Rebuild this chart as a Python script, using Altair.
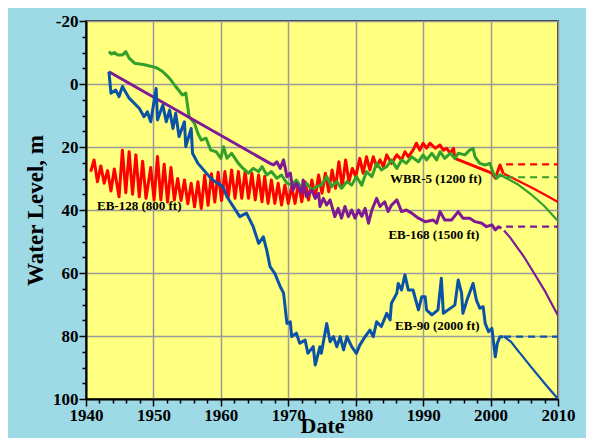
import altair as alt
import pandas as pd

# ---------------- data ----------------
series_names = ["EB-128 (800 ft)", "WBR-5 (1200 ft)", "EB-168 (1500 ft)", "EB-90 (2000 ft)"]
series_colors = ["#ff0000", "#33a02c", "#7d1a94", "#0a52a8"]

# EB-128 (800 ft) observed
red_years = [1940.7, 1941.2, 1941.7, 1942.2, 1942.7, 1943.2, 1943.7, 1944.2, 1944.9, 1945.4,
             1945.9, 1946.4, 1946.9, 1947.4, 1947.9, 1948.4, 1948.9, 1949.6, 1950.1, 1950.6,
             1951.1, 1951.6, 1952.1, 1952.6, 1953.1, 1953.6, 1954.1, 1954.6, 1955.1, 1955.6,
             1956.1, 1956.6, 1957.1, 1957.6, 1958.1, 1958.6, 1959.1, 1959.6, 1960.1, 1960.6,
             1961.1, 1961.6, 1962.1, 1962.6, 1963.1, 1963.6, 1964.1, 1964.6, 1965.1, 1965.6,
             1966.1, 1966.5, 1967.0, 1967.5, 1968.0, 1968.5, 1969.0, 1969.5, 1970.0, 1970.5,
             1971.0, 1971.5, 1972.0, 1972.5, 1973.0, 1973.5, 1974.0, 1974.5, 1975.0, 1975.5,
             1976.0, 1976.5, 1977.0, 1977.5, 1978.0, 1978.5, 1979.0, 1979.5, 1980.0, 1980.6,
             1981.1, 1981.6, 1982.1, 1982.6, 1983.1, 1983.6, 1984.1, 1984.6, 1985.3, 1986.1,
             1986.8, 1987.3, 1987.8, 1988.5, 1989.0, 1989.5, 1990.0, 1990.5, 1991.0, 1991.8,
             1992.5, 1993.0, 1993.5, 1994.0, 1994.5, 1994.7, 2000.2, 2000.7, 2001.4, 2001.9]
red_levels = [27.8, 24.1, 31.0, 26.0, 31.5, 27.5, 34.0, 27.0, 35.8, 21.0,
              34.5, 21.5, 35.0, 22.5, 35.8, 24.5, 36.3, 26.5, 36.8, 23.0,
              36.8, 25.5, 37.5, 26.5, 36.8, 30.0, 37.0, 30.5, 38.0, 31.5,
              39.0, 31.0, 39.5, 29.0, 38.5, 28.5, 37.5, 28.0, 37.0, 27.8,
              36.0, 27.3, 36.3, 27.8, 36.3, 27.8, 36.3, 28.3, 36.8, 28.9,
              37.4, 29.4, 37.9, 30.5, 37.9, 31.5, 38.4, 32.1, 37.9, 32.6,
              37.9, 31.5, 37.4, 31.0, 36.8, 30.5, 35.8, 28.9, 34.7, 28.3,
              34.2, 27.3, 33.1, 24.7, 32.6, 24.1, 31.0, 26.8, 29.4, 23.6,
              28.3, 23.1, 27.3, 23.1, 26.2, 24.1, 26.2, 22.5, 25.2, 22.5,
              24.1, 21.5, 23.1, 21.0, 18.8, 21.0, 18.8, 20.4, 18.8, 20.4,
              19.4, 21.0, 20.4, 22.0, 20.4, 23.6, 28.3, 29.9, 25.7, 28.5]
red_proj_years = [2002, 2004, 2006, 2008, 2010]
red_proj_levels = [28.5, 30.6, 32.8, 35.1, 37.5]
red_flat_years = [2002.3, 2010]
red_flat_levels = [25.5, 25.5]

# WBR-5 (1200 ft) observed
green_years = [1943.4, 1943.8, 1944.2, 1944.7, 1945.4, 1945.9, 1946.4, 1947.2, 1948.5, 1949.9,
               1950.6, 1951.4, 1952.4, 1953.3, 1954.3, 1954.8, 1955.3, 1956.1, 1956.6, 1957.1,
               1957.8, 1958.5, 1959.3, 1960.0, 1960.4, 1960.9, 1961.6, 1962.6, 1963.3, 1964.1,
               1964.8, 1965.6, 1966.1, 1966.8, 1967.5, 1968.3, 1969.0, 1969.8, 1970.5, 1971.2,
               1972.0, 1972.7, 1973.5, 1974.2, 1974.9, 1975.7, 1976.4, 1977.2, 1977.9, 1978.7,
               1979.4, 1980.1, 1980.9, 1981.6, 1982.4, 1983.1, 1983.8, 1984.6, 1985.3, 1986.1,
               1986.8, 1987.5, 1988.3, 1989.3, 1990.0, 1990.5, 1991.3, 1992.0, 1992.5, 1993.2,
               1994.0, 1994.7, 1995.2, 1996.2, 1996.9, 1997.4, 1997.7, 1998.4, 1999.2, 1999.9,
               2000.4, 2000.9, 2001.4, 2002.1]
green_levels = [-10.3, -9.5, -10.0, -9.2, -9.2, -10.3, -8.2, -6.6, -6.2, -5.5,
                -5.0, -3.9, -1.8, 0.8, 3.5, 2.9, 10.4, 12.5, 15.7, 17.8,
                17.2, 21.0, 21.5, 23.6, 19.9, 23.6, 22.0, 25.2, 26.8, 28.3,
                26.8, 27.8, 26.2, 28.9, 27.8, 29.9, 28.9, 31.5, 32.1, 30.5,
                33.1, 31.5, 33.7, 32.6, 32.1, 29.4, 32.6, 31.0, 33.1, 31.0,
                32.1, 29.4, 32.1, 27.8, 29.4, 25.2, 27.3, 26.2, 24.1, 26.8,
                24.1, 25.2, 23.1, 24.7, 22.5, 24.1, 22.0, 24.1, 21.5, 23.6,
                22.0, 23.6, 22.0, 22.5, 21.0, 20.4, 23.1, 25.2, 25.7, 25.2,
                28.3, 29.9, 28.9, 29.4]
green_proj_years = [2002, 2004, 2006, 2008, 2010]
green_proj_levels = [29.5, 31.8, 35.0, 38.8, 43.5]
green_flat_years = [2002.3, 2010]
green_flat_levels = [29.6, 29.6]

# EB-168 (1500 ft) observed
purple_years = [1943.4, 1967.3, 1967.8, 1968.3, 1968.8, 1969.3, 1969.8, 1970.3, 1970.7, 1971.2,
                1972.0, 1972.2, 1972.7, 1973.5, 1974.0, 1974.5, 1974.7, 1975.2, 1975.7, 1976.2,
                1976.9, 1977.4, 1977.9, 1978.4, 1978.9, 1979.4, 1979.9, 1980.4, 1980.9, 1981.4,
                1981.9, 1982.4, 1983.1, 1983.6, 1984.3, 1984.8, 1985.3, 1986.1, 1986.8, 1987.5,
                1988.3, 1989.3, 1990.3, 1991.5, 1992.0, 1992.5, 1993.2, 1994.2, 1995.2, 1995.9,
                1996.9, 1997.7, 1998.7, 1999.4, 2000.2, 2000.7, 2001.2, 2001.6]
purple_levels = [-3.9, 25.2, 25.7, 24.7, 26.8, 24.1, 29.4, 28.3, 33.7, 31.5,
                 34.7, 30.5, 35.8, 33.7, 36.3, 34.7, 38.9, 36.3, 38.4, 36.8,
                 42.1, 39.5, 42.6, 38.9, 42.1, 40.0, 42.6, 40.0, 42.0, 39.5,
                 44.2, 40.0, 36.3, 38.9, 37.4, 40.5, 38.5, 36.8, 40.5, 40.0,
                 41.0, 42.6, 43.7, 43.2, 44.2, 40.5, 43.2, 43.2, 40.5, 42.6,
                 42.6, 43.7, 44.2, 45.3, 44.7, 46.3, 45.3, 45.8]
purple_proj_years = [2002, 2003, 2004, 2005, 2006, 2007, 2008, 2009, 2010]
purple_proj_levels = [46.5, 49.0, 52.0, 55.0, 58.5, 62.0, 65.5, 69.5, 73.5]
purple_flat_years = [2002.3, 2010]
purple_flat_levels = [45.3, 45.3]

# EB-90 (2000 ft) observed
blue_years = [1943.4, 1943.7, 1944.4, 1944.9, 1945.4, 1946.4, 1947.9, 1948.6, 1949.1, 1949.6,
              1950.4, 1950.6, 1951.4, 1951.9, 1952.4, 1952.9, 1953.3, 1953.8, 1954.6, 1954.8,
              1955.6, 1955.8, 1956.6, 1958.3, 1958.8, 1960.3, 1960.9, 1962.8, 1963.8, 1964.8,
              1965.6, 1966.3, 1966.8, 1967.3, 1968.0, 1968.8, 1969.3, 1969.8, 1970.3, 1970.5,
              1971.2, 1971.7, 1972.5, 1972.9, 1973.7, 1974.0, 1974.7, 1974.9, 1975.7, 1976.2,
              1976.7, 1977.2, 1977.7, 1978.2, 1978.7, 1979.4, 1980.1, 1980.6, 1981.4, 1982.1,
              1982.6, 1983.1, 1983.8, 1984.6, 1985.1, 1985.3, 1986.1, 1986.3, 1986.8, 1987.3,
              1987.8, 1988.5, 1989.3, 1989.8, 1990.3, 1990.5, 1991.3, 1992.2, 1992.7, 1993.0,
              1993.7, 1994.7, 1995.2, 1995.7, 1995.9, 1996.5, 1997.4, 1997.9, 1998.4, 1998.9,
              1999.2, 1999.7, 2000.2, 2000.7, 2001.0, 2001.4, 2001.9]
blue_levels = [-3.9, 2.9, 1.9, 4.0, 0.8, 4.5, 7.7, 10.4, 8.8, 12.0,
               1.4, 11.4, 6.7, 12.0, 8.3, 14.1, 9.3, 16.7, 12.0, 19.9,
               14.1, 22.0, 25.2, 29.4, 30.5, 32.6, 35.8, 42.1, 41.0, 45.3,
               50.6, 48.5, 52.7, 58.0, 60.1, 64.3, 66.4, 76.0, 75.5, 80.2,
               79.1, 82.3, 81.3, 85.5, 83.4, 89.2, 83.4, 85.5, 76.0, 81.8,
               80.2, 83.4, 80.2, 84.4, 80.2, 83.4, 85.5, 82.9, 80.2, 78.1,
               80.2, 75.5, 77.0, 72.8, 74.9, 69.6, 66.4, 63.3, 65.4, 60.6,
               65.4, 65.4, 71.7, 67.5, 67.5, 71.7, 73.3, 71.7, 61.7, 72.8,
               71.7, 70.2, 62.2, 66.4, 72.8, 68.6, 63.3, 68.6, 71.2, 70.7,
               76.0, 78.6, 77.6, 86.6, 82.3, 80.2, 80.2]
blue_proj_years = [2002, 2003, 2004, 2006, 2008, 2010]
blue_proj_levels = [80.2, 81.8, 84.5, 89.8, 95.0, 100.0]
blue_flat_years = [2002.0, 2010]
blue_flat_levels = [80.2, 80.2]

label_texts = ["EB-128 (800 ft)", "WBR-5 (1200 ft)", "EB-168 (1500 ft)", "EB-90 (2000 ft)"]
label_years = [1947.9, 1991.9, 1991.6, 1992.1]
label_levels = [38.7, 30.3, 47.9, 76.7]

x_ticks = list(range(1940, 2011, 2))
y_ticks = list(range(-20, 101, 5))

# ---------------- build tables ----------------
obs = {
    series_names[0]: (red_years, red_levels),
    series_names[1]: (green_years, green_levels),
    series_names[2]: (purple_years, purple_levels),
    series_names[3]: (blue_years, blue_levels),
}
proj = {
    series_names[0]: (red_proj_years, red_proj_levels),
    series_names[1]: (green_proj_years, green_proj_levels),
    series_names[2]: (purple_proj_years, purple_proj_levels),
    series_names[3]: (blue_proj_years, blue_proj_levels),
}
flat = {
    series_names[0]: (red_flat_years, red_flat_levels),
    series_names[1]: (green_flat_years, green_flat_levels),
    series_names[2]: (purple_flat_years, purple_flat_levels),
    series_names[3]: (blue_flat_years, blue_flat_levels),
}

FONT = "Liberation Serif"

x_axis = alt.Axis(
    values=x_ticks, format="d",
    labelExpr="datum.value % 10 === 0 ? '' + datum.value : ''",
    labelOverlap=False, labelFlush=False,
    labelFont=FONT, labelFontWeight="bold", labelFontSize=17, labelColor="black",
    labelPadding=1,
    tickColor="black", tickWidth=1.5,
    tickSize={"condition": {"test": "datum.value % 10 === 0", "value": 7}, "value": 4},
    grid=True, gridColor="#9a9a9a", gridWidth=1.5,
    gridOpacity={"condition": {"test": "datum.value % 10 === 0", "value": 1}, "value": 0},
    domainColor="black", domainWidth=2,
    title="Date", titleFont=FONT, titleFontWeight="bold", titleFontSize=22,
    titleColor="black", titlePadding=-8,
)
y_axis = alt.Axis(
    values=y_ticks,
    labelExpr="datum.value % 20 === 0 ? '' + datum.value : ''",
    labelOverlap=False, labelFlush=False,
    labelFont=FONT, labelFontWeight="bold", labelFontSize=17, labelColor="black",
    labelPadding=1,
    tickColor="black", tickWidth=1.5,
    tickSize={"condition": {"test": "datum.value % 20 === 0", "value": 7}, "value": 4},
    grid=True, gridColor="#9a9a9a", gridWidth=1.5,
    gridOpacity={"condition": {"test": "datum.value % 20 === 0", "value": 1}, "value": 0},
    domainColor="black", domainWidth=2,
    title="Water Level, m", titleFont=FONT, titleFontWeight="bold", titleFontSize=23,
    titleColor="black", titlePadding=5,
)

xs = alt.Scale(domain=[1940, 2010], nice=False, zero=False)
ys = alt.Scale(domain=[-20, 100], reverse=True, nice=False, zero=False)
cs = alt.Scale(domain=series_names, range=series_colors)


def enc(ch):
    return ch.encode(
        x=alt.X("year:Q", scale=xs, axis=x_axis),
        y=alt.Y("level:Q", scale=ys, axis=y_axis),
        color=alt.Color("series:N", scale=cs, legend=None),
    )


layers = []
for name in series_names:
    yr, lv = proj[name]
    d = pd.DataFrame({"year": yr, "level": lv, "series": name})
    layers.append(enc(alt.Chart(d).mark_line(strokeWidth=2.2, clip=True)))
    yr, lv = flat[name]
    d = pd.DataFrame({"year": yr, "level": lv, "series": name})
    layers.append(enc(alt.Chart(d).mark_line(strokeWidth=2.2, strokeDash=[7, 5], clip=True)))
for name in series_names:
    yr, lv = obs[name]
    d = pd.DataFrame({"year": yr, "level": lv, "series": name})
    layers.append(enc(alt.Chart(d).mark_line(strokeWidth=3, strokeJoin="round", clip=True)))

labels_df = pd.DataFrame({"year": label_years, "level": label_levels, "label": label_texts})
text_layer = alt.Chart(labels_df).mark_text(
    font=FONT, fontWeight="bold", fontSize=13, color="black", baseline="middle", align="center"
).encode(
    x=alt.X("year:Q", scale=xs, axis=x_axis),
    y=alt.Y("level:Q", scale=ys, axis=y_axis),
    text="label:N",
)
layers.append(text_layer)

chart = alt.layer(*layers).properties(
    width=472, height=378,
    background="#9ed9e6",
    padding={"left": 78, "top": 13, "right": 28, "bottom": 39},
    autosize=alt.AutoSizeParams(type="none"),
).configure_view(fill="#ffff80", stroke="black", strokeWidth=1.5)

chart.save("out.html", embed_options={"renderer": "svg", "actions": False})
